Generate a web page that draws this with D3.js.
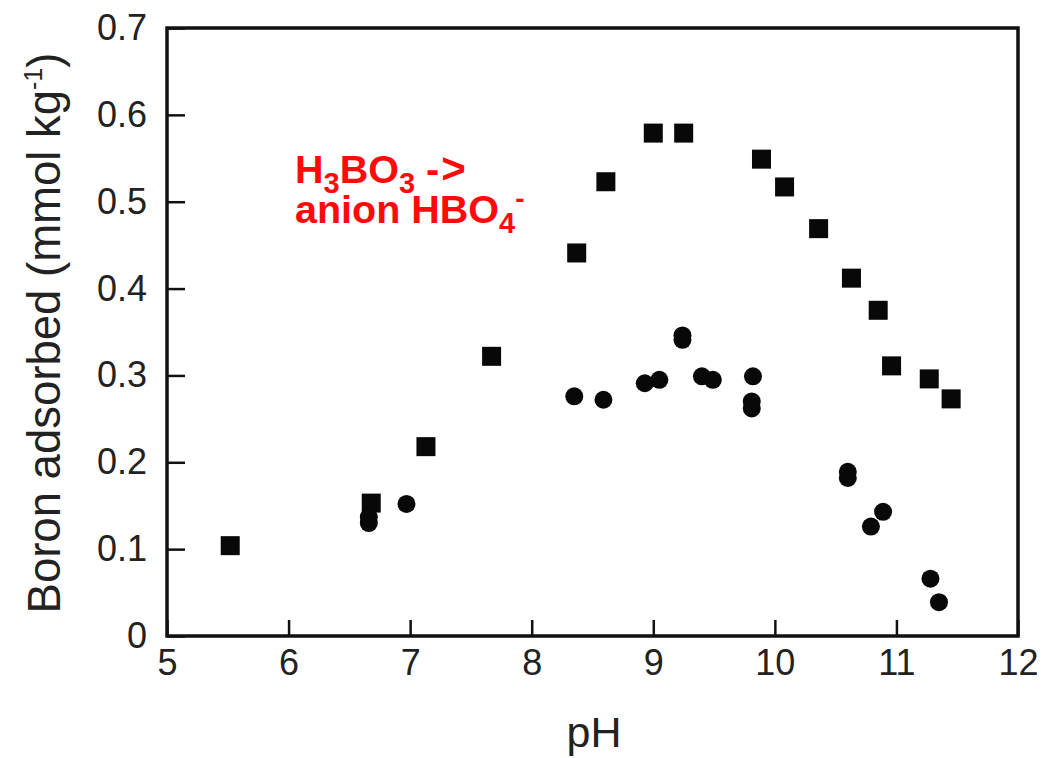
<!DOCTYPE html>
<html>
<head>
<meta charset="utf-8">
<script src="https://cdn.jsdelivr.net/npm/d3@7"></script>
<style>
  html, body { margin: 0; padding: 0; background: #fff; }
  svg { display: block; }
  text { font-family: "Liberation Sans", Arial, sans-serif; }
</style>
</head>
<body>
<svg id="chart" width="1055" height="758"></svg>
<script>
// Squares
const squarePH = [5.52, 6.68, 7.13, 7.67, 8.37, 8.61, 9.00, 9.25, 9.89, 10.08, 10.36, 10.63, 10.85, 10.96, 11.27, 11.45];
const squareB  = [0.104, 0.153, 0.218, 0.322, 0.441, 0.523, 0.579, 0.579, 0.549, 0.517, 0.469, 0.412, 0.375, 0.311, 0.296, 0.273];
// Circles
const circlePH = [6.66, 6.66, 6.97, 8.35, 8.59, 8.93, 9.05, 9.24, 9.24, 9.40, 9.49, 9.82, 9.81, 9.81, 10.60, 10.60, 10.79, 10.89, 11.28, 11.35];
const circleB  = [0.130, 0.137, 0.152, 0.276, 0.272, 0.291, 0.295, 0.346, 0.341, 0.299, 0.295, 0.299, 0.270, 0.262, 0.189, 0.182, 0.126, 0.143, 0.066, 0.039];
// Ticks
const xTicks = [5, 6, 7, 8, 9, 10, 11, 12];
const yTicks = [0, 0.1, 0.2, 0.3, 0.4, 0.5, 0.6, 0.7];
const xTitle = "pH";
const yTitle = "Boron adsorbed (mmol kg";

const svg = d3.select("#chart");
const x = d3.scaleLinear().domain([5, 12]).range([167, 1018]);
const y = d3.scaleLinear().domain([0, 0.7]).range([636, 28]);

// axes
const xAxis = svg.append("g").attr("transform", `translate(0,${y(0)})`)
  .call(d3.axisBottom(x).tickValues(xTicks).tickSizeInner(-16).tickSizeOuter(0).tickPadding(13).tickFormat(d3.format("d")));
const yAxis = svg.append("g").attr("transform", `translate(${x(5)},0)`)
  .call(d3.axisLeft(y).tickValues(yTicks).tickSizeInner(-18).tickSizeOuter(0).tickPadding(20)
    .tickFormat(d => d === 0 ? "0" : d3.format(".1f")(d)));
[xAxis, yAxis].forEach(g => {
  g.select(".domain").remove();
  g.selectAll(".tick line").attr("stroke", "#111").attr("stroke-width", 2.5);
  g.selectAll(".tick text").attr("fill", "#222").style("font-size", "36px")
    .style("font-family", "'Liberation Sans', Arial, sans-serif");
});

// frame
svg.append("rect")
  .attr("x", x(5)).attr("y", y(0.7))
  .attr("width", x(12) - x(5)).attr("height", y(0) - y(0.7))
  .attr("fill", "none").attr("stroke", "#111").attr("stroke-width", 3.5);

// points
const sq = 19;
svg.append("g").selectAll("rect").data(squarePH.map((p, i) => [p, squareB[i]]))
  .join("rect")
  .attr("x", d => x(d[0]) - sq / 2).attr("y", d => y(d[1]) - sq / 2)
  .attr("width", sq).attr("height", sq).attr("fill", "#080808");
svg.append("g").selectAll("circle").data(circlePH.map((p, i) => [p, circleB[i]]))
  .join("circle")
  .attr("cx", d => x(d[0])).attr("cy", d => y(d[1])).attr("r", 9).attr("fill", "#080808");

// axis titles
svg.append("text").attr("x", 594).attr("y", 747).attr("text-anchor", "middle")
  .attr("fill", "#222").style("font-size", "43px").text(xTitle);
const yt = svg.append("text").attr("transform", "translate(60,333) rotate(-90)")
  .attr("text-anchor", "middle").attr("fill", "#222").style("font-size", "45.5px");
yt.append("tspan").text(yTitle);
yt.append("tspan").attr("dy", -18).style("font-size", "25px").text("-1");
yt.append("tspan").attr("dy", 18).text(")");

// annotation
const red = "#ff0a0a";
const a1 = svg.append("text").attr("x", 295).attr("y", 183).attr("fill", red)
  .style("font-size", "39.5px").style("font-weight", "bold");
a1.append("tspan").text("H");
a1.append("tspan").attr("dy", 10).style("font-size", "29px").text("3");
a1.append("tspan").attr("dy", -10).text("BO");
a1.append("tspan").attr("dy", 10).style("font-size", "29px").text("3");
a1.append("tspan").attr("dy", -10).text(" -");
a1.append("tspan").attr("dx", 2).style("font-size", "42px").text(">");
const a2 = svg.append("text").attr("x", 295).attr("y", 223).attr("fill", red)
  .style("font-size", "39.5px").style("font-weight", "bold");
a2.append("tspan").text("anion HBO");
a2.append("tspan").attr("dy", 10).style("font-size", "29px").text("4");
a2.append("tspan").attr("dy", -25).style("font-size", "28px").text("-");
</script>
</body>
</html>
